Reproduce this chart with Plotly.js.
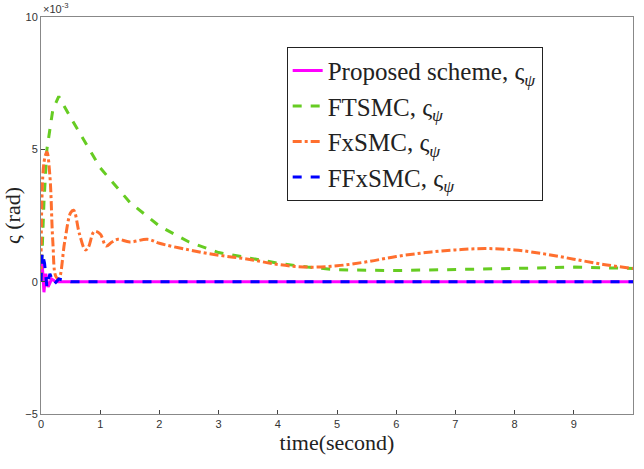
<!DOCTYPE html>
<html><head><meta charset="utf-8">
<script src="https://cdn.plot.ly/plotly-3.0.1.min.js"></script>
<style>body{margin:0}</style></head>
<body><div id="plot" style="width:644px;height:469px"></div>
<script>
// values in units of 1e-3 rad
const ftsmc_t = [0,0.05,0.1,0.2,0.3,0.5,1,1.5,2,2.5,3,4,4.5,5,6,7,8,9,10];
const ftsmc_y = [0,3,5,6.5,7.0,6.2,4.3,3.0,2.1,1.5,1.1,0.7,0.55,0.45,0.42,0.45,0.5,0.55,0.5];
const fxsmc_t = [0,0.05,0.1,0.15,0.2,0.25,0.3,0.4,0.5,0.55,0.65,0.75,0.8,0.9,1.0,1.1,1.2,1.3,1.5,1.8,2,2.5,3,3.5,4,4.5,5,5.5,6,6.5,7,7.5,8,8.5,9,9.5,10];
const fxsmc_y = [0,4.5,4.9,4.0,1.5,0.2,0.1,1.5,2.6,2.7,1.8,1.2,1.3,1.9,1.8,1.35,1.5,1.6,1.5,1.6,1.45,1.2,1.0,0.85,0.65,0.55,0.6,0.75,0.95,1.1,1.2,1.25,1.2,1.05,0.85,0.65,0.5];
const prop_t = [0,0.02,0.05,0.08,0.12,0.18,0.25,10];
const prop_y = [0,0.7,-0.4,0.3,-0.2,0.1,0,0];
const ffx_t = [0,0.02,0.06,0.1,0.15,0.22,0.3,0.4,0.5,10];
const ffx_y = [0,1.1,0.7,-0.2,0.3,-0.1,0.1,0.05,0,0];

const sub = ", ς<sub><i>ψ</i></sub>";
const data = [
  {x: prop_t, y: prop_y, name: "Proposed scheme" + sub, mode: "lines", line: {color: "#ff00ff", width: 3}},
  {x: ftsmc_t, y: ftsmc_y, name: "FTSMC" + sub, mode: "lines", line: {color: "#66cc22", width: 3, dash: "dash"}},
  {x: fxsmc_t, y: fxsmc_y, name: "FxSMC" + sub, mode: "lines", line: {color: "#ff6f2e", width: 3, dash: "dashdot", shape: "spline"}},
  {x: ffx_t, y: ffx_y, name: "FFxSMC" + sub, mode: "lines", line: {color: "#0000ff", width: 3, dash: "dash"}}
];

const layout = {
  width: 644, height: 469,
  margin: {l: 41, r: 11, t: 17, b: 55},
  paper_bgcolor: "white", plot_bgcolor: "white",
  font: {family: "Liberation Serif, serif", color: "#222"},
  showlegend: true,
  legend: {x: 0.415, y: 0.925, xanchor: "left", yanchor: "top", bordercolor: "#222", borderwidth: 1,
           bgcolor: "white", font: {size: 25}, tracegroupgap: 0},
  xaxis: {range: [0, 10], tickvals: [0,1,2,3,4,5,6,7,8,9], showgrid: false, zeroline: false,
          showline: true, mirror: true, linecolor: "#888", ticks: "inside", ticklen: 4,
          tickfont: {family: "Liberation Sans, sans-serif", size: 11, color: "#333"},
          title: {text: "time(second)", font: {size: 22}, standoff: 4}},
  yaxis: {range: [-5, 10], tickvals: [-5, 0, 5, 10], showgrid: false, zeroline: false,
          showline: true, mirror: true, linecolor: "#888", ticks: "inside", ticklen: 4,
          tickfont: {family: "Liberation Sans, sans-serif", size: 11, color: "#333"},
          title: {text: "ς (rad)", font: {size: 22}, standoff: 2}},
  annotations: [{x: 0, y: 1, xref: "paper", yref: "paper", xanchor: "left", yanchor: "bottom",
                 showarrow: false, text: "×10<sup>-3</sup>",
                 font: {family: "Liberation Sans, sans-serif", size: 11, color: "#333"}}]
};

Plotly.newPlot("plot", data, layout, {displayModeBar: false, staticPlot: true});
</script></body></html>
